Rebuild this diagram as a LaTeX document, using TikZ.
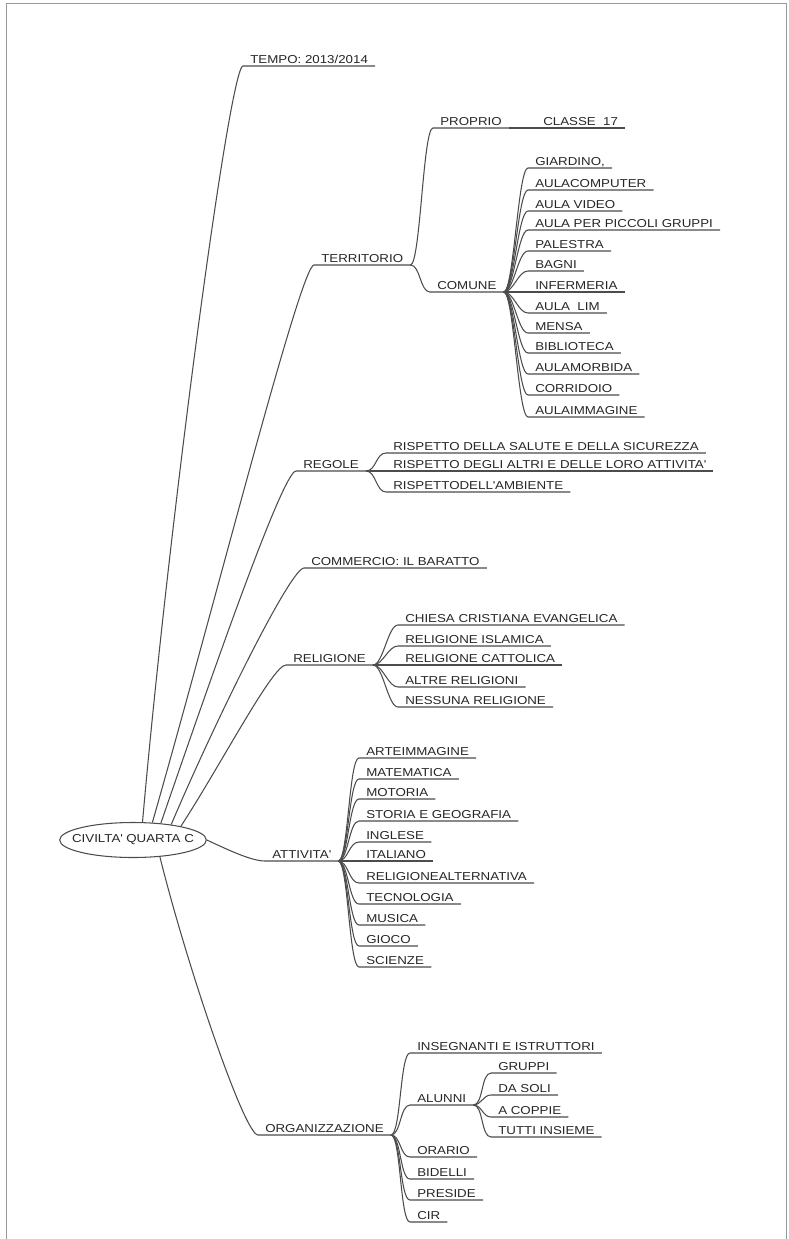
\documentclass[tikz,border=0pt]{standalone}
\usepackage{fontspec}
\setmainfont{Liberation Sans}[FakeStretch=1.16]
\usetikzlibrary{shapes.geometric}
\tikzstyle{itm}=[anchor=south west, inner xsep=6pt, inner ysep=2pt, text depth=0pt,
	text=black!85, font=\fontsize{9.8}{11}\selectfont]
\tikzstyle{ln}=[draw=black!70, line width=0.9pt]
\tikzstyle{sub}=[out=0, in=180, max distance=3mm]
\tikzstyle{cv}=[in=180, in max distance=4mm]
\newcommand{\ap}{\textquotesingle}

\begin{document}
\begin{tikzpicture}[x=0.3mm, y=0.3mm]
        \useasboundingbox (0,0) rectangle (788,-1239);
        % page edge of the scan
        \draw[black!40, line width=0.8pt] (6,-1239) -- (6,-3) -- (786,-3) -- (786,-1239);
        \node[ellipse, ln, inner sep=0, minimum width=44mm, minimum height=10.5mm] (civ) at (133,-840) {};
        \node[text=black!85, font=\fontsize{9.8}{11}\selectfont, inner sep=0] (civt) at (civ.center) {CIVILTA\ap{} QUARTA C};
        % first level
        \node[itm] (tempo) at (243,-66) {TEMPO: 2013/2014};
        \node[itm] (terr) at (314,-265) {TERRITORIO};
        \node[itm] (reg) at (296,-471) {REGOLE};
        \node[itm] (comm) at (304,-568) {COMMERCIO: IL BARATTO};
        \node[itm] (rel) at (286,-665) {RELIGIONE};
        \node[itm] (att) at (265,-861) {ATTIVITA\ap};
        \node[itm] (org) at (258,-1135) {ORGANIZZAZIONE};
        \draw[ln] (civ.62) to[cv, out=85] (tempo.south west) -- (tempo.south east);
        \draw[ln] (civ.42) to[cv, out=74] (terr.south west) -- (terr.south east);
        \draw[ln] (civ.31) to[cv, out=71] (reg.south west) -- (reg.south east);
        \draw[ln] (civ.22) to[cv, out=67] (comm.south west) -- (comm.south east);
        \draw[ln] (civ.16) to[cv, out=57] (rel.south west) -- (rel.south east);
        \draw[ln] (civ.east) to[cv, out=-25] (att.south west) -- (att.south east);
        \draw[ln] (civ.328) to[cv, out=-76] (org.south west) -- (org.south east);
        % territorio
        \node[itm] (prop) at (433,-128) {PROPRIO};
        \node[itm] (cls) at (536,-128) {CLASSE\ \ 17};
        \node[itm] (com) at (430,-292) {COMUNE};
        \draw[ln] (terr.south east) to[sub] (prop.south west) -- (prop.south east);
        \draw[ln] (prop.south east) -- (cls.south west) -- (cls.south east);
        \draw[ln] (terr.south east) to[sub] (com.south west) -- (com.south east);
        \node[itm] (giar) at (528,-168) {GIARDINO,};
        \node[itm] (acomp) at (528,-190) {AULACOMPUTER};
        \node[itm] (avid) at (528,-211) {AULA VIDEO};
        \node[itm] (apic) at (528,-230) {AULA PER PICCOLI GRUPPI};
        \node[itm] (pal) at (528,-251) {PALESTRA};
        \node[itm] (bag) at (528,-271) {BAGNI};
        \node[itm] (inf) at (528,-292) {INFERMERIA};
        \node[itm] (alim) at (528,-313) {AULA\ \ LIM};
        \node[itm] (mens) at (528,-333) {MENSA};
        \node[itm] (bib) at (528,-353) {BIBLIOTECA};
        \node[itm] (amor) at (528,-374) {AULAMORBIDA};
        \node[itm] (corr) at (528,-395) {CORRIDOIO};
        \node[itm] (aimm) at (528,-417) {AULAIMMAGINE};
        \draw[ln] (com.south east) to[sub] (giar.south west) -- (giar.south east);
        \draw[ln] (com.south east) to[sub] (acomp.south west) -- (acomp.south east);
        \draw[ln] (com.south east) to[sub] (avid.south west) -- (avid.south east);
        \draw[ln] (com.south east) to[sub] (apic.south west) -- (apic.south east);
        \draw[ln] (com.south east) to[sub] (pal.south west) -- (pal.south east);
        \draw[ln] (com.south east) to[sub] (bag.south west) -- (bag.south east);
        \draw[ln] (com.south east) to[sub] (inf.south west) -- (inf.south east);
        \draw[ln] (com.south east) to[sub] (alim.south west) -- (alim.south east);
        \draw[ln] (com.south east) to[sub] (mens.south west) -- (mens.south east);
        \draw[ln] (com.south east) to[sub] (bib.south west) -- (bib.south east);
        \draw[ln] (com.south east) to[sub] (amor.south west) -- (amor.south east);
        \draw[ln] (com.south east) to[sub] (corr.south west) -- (corr.south east);
        \draw[ln] (com.south east) to[sub] (aimm.south west) -- (aimm.south east);
        % regole
        \node[itm] (rsal) at (386,-453) {RISPETTO DELLA SALUTE E DELLA SICUREZZA};
        \node[itm] (ralt) at (386,-471) {RISPETTO DEGLI ALTRI E DELLE LORO ATTIVITA\ap};
        \node[itm] (ramb) at (386,-492) {RISPETTODELL\ap AMBIENTE};
        \draw[ln] (reg.south east) to[sub] (rsal.south west) -- (rsal.south east);
        \draw[ln] (reg.south east) to[sub] (ralt.south west) -- (ralt.south east);
        \draw[ln] (reg.south east) to[sub] (ramb.south west) -- (ramb.south east);
        % religione
        \node[itm] (chi) at (398,-625) {CHIESA CRISTIANA EVANGELICA};
        \node[itm] (isl) at (398,-646) {RELIGIONE ISLAMICA};
        \node[itm] (cat) at (398,-665) {RELIGIONE CATTOLICA};
        \node[itm] (altr) at (398,-687) {ALTRE RELIGIONI};
        \node[itm] (ness) at (398,-707) {NESSUNA RELIGIONE};
        \draw[ln] (rel.south east) to[sub] (chi.south west) -- (chi.south east);
        \draw[ln] (rel.south east) to[sub] (isl.south west) -- (isl.south east);
        \draw[ln] (rel.south east) to[sub] (cat.south west) -- (cat.south east);
        \draw[ln] (rel.south east) to[sub] (altr.south west) -- (altr.south east);
        \draw[ln] (rel.south east) to[sub] (ness.south west) -- (ness.south east);
        % attivita
        \node[itm] (arte) at (359,-758) {ARTEIMMAGINE};
        \node[itm] (mat) at (359,-779) {MATEMATICA};
        \node[itm] (mot) at (359,-799) {MOTORIA};
        \node[itm] (sto) at (359,-821) {STORIA E GEOGRAFIA};
        \node[itm] (ing) at (359,-842) {INGLESE};
        \node[itm] (ita) at (359,-861) {ITALIANO};
        \node[itm] (ralt2) at (359,-883) {RELIGIONEALTERNATIVA};
        \node[itm] (tec) at (359,-904) {TECNOLOGIA};
        \node[itm] (mus) at (359,-925) {MUSICA};
        \node[itm] (gio) at (359,-946) {GIOCO};
        \node[itm] (sci) at (359,-967) {SCIENZE};
        \draw[ln] (att.south east) to[sub] (arte.south west) -- (arte.south east);
        \draw[ln] (att.south east) to[sub] (mat.south west) -- (mat.south east);
        \draw[ln] (att.south east) to[sub] (mot.south west) -- (mot.south east);
        \draw[ln] (att.south east) to[sub] (sto.south west) -- (sto.south east);
        \draw[ln] (att.south east) to[sub] (ing.south west) -- (ing.south east);
        \draw[ln] (att.south east) to[sub] (ita.south west) -- (ita.south east);
        \draw[ln] (att.south east) to[sub] (ralt2.south west) -- (ralt2.south east);
        \draw[ln] (att.south east) to[sub] (tec.south west) -- (tec.south east);
        \draw[ln] (att.south east) to[sub] (mus.south west) -- (mus.south east);
        \draw[ln] (att.south east) to[sub] (gio.south west) -- (gio.south east);
        \draw[ln] (att.south east) to[sub] (sci.south west) -- (sci.south east);
        % organizzazione
        \node[itm] (ins) at (410,-1053) {INSEGNANTI E ISTRUTTORI};
        \node[itm] (alu) at (410,-1105) {ALUNNI};
        \node[itm] (ora) at (410,-1157) {ORARIO};
        \node[itm] (bid) at (410,-1179) {BIDELLI};
        \node[itm] (pre) at (410,-1200) {PRESIDE};
        \node[itm] (cir) at (410,-1222) {CIR};
        \draw[ln] (org.south east) to[sub] (ins.south west) -- (ins.south east);
        \draw[ln] (org.south east) to[sub] (alu.south west) -- (alu.south east);
        \draw[ln] (org.south east) to[sub] (ora.south west) -- (ora.south east);
        \draw[ln] (org.south east) to[sub] (bid.south west) -- (bid.south east);
        \draw[ln] (org.south east) to[sub] (pre.south west) -- (pre.south east);
        \draw[ln] (org.south east) to[sub] (cir.south west) -- (cir.south east);
        \node[itm] (gru) at (491,-1073) {GRUPPI};
        \node[itm] (das) at (491,-1095) {DA SOLI};
        \node[itm] (aco) at (491,-1117) {A COPPIE};
        \node[itm] (tut) at (491,-1137) {TUTTI INSIEME};
        \draw[ln] (alu.south east) to[sub] (gru.south west) -- (gru.south east);
        \draw[ln] (alu.south east) to[sub] (das.south west) -- (das.south east);
        \draw[ln] (alu.south east) to[sub] (aco.south west) -- (aco.south east);
        \draw[ln] (alu.south east) to[sub] (tut.south west) -- (tut.south east);
\end{tikzpicture}
\end{document}
